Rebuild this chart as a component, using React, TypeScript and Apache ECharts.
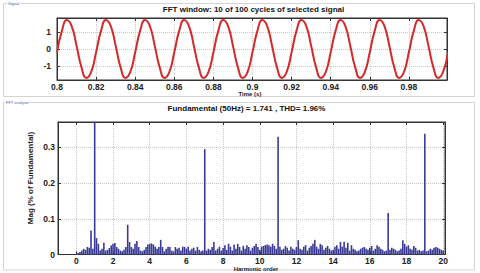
import React, { useEffect, useRef } from "react";
import * as echarts from "echarts";

// ---- data ----
const timeTicks = [0.8, 0.82, 0.84, 0.86, 0.88, 0.9, 0.92, 0.94, 0.96, 0.98];
const signalTicks = [-1, 0, 1];
const harmonicTicks = [0, 2, 4, 6, 8, 10, 12, 14, 16, 18, 20];
const magTicks = [0, 0.1, 0.2, 0.3];

const signalStart = 0.8;
const signalStep = 0.0025;
const signalValues = [
  -0.2, 1.08, 1.73, 1.37, 0.2, -1.08, -1.73, -1.37,
  -0.2, 1.08, 1.73, 1.37, 0.2, -1.08, -1.73, -1.37,
  -0.2, 1.08, 1.73, 1.37, 0.2, -1.08, -1.73, -1.37,
  -0.2, 1.08, 1.73, 1.37, 0.2, -1.08, -1.73, -1.37,
  -0.2, 1.08, 1.73, 1.37, 0.2, -1.08, -1.73, -1.37,
  -0.2, 1.08, 1.73, 1.37, 0.2, -1.08, -1.73, -1.37,
  -0.2, 1.08, 1.73, 1.37, 0.2, -1.08, -1.73, -1.37,
  -0.2, 1.08, 1.73, 1.37, 0.2, -1.08, -1.73, -1.37,
  -0.2, 1.08, 1.73, 1.37, 0.2, -1.08, -1.73, -1.37,
  -0.2, 1.08, 1.73, 1.37, 0.2, -1.08, -1.73, -1.37,
  -0.2,
];

const harmonicStep = 0.1;
const magnitudes = [
  0.002, 0.004, 0.007, 0.011, 0.016, 0.013, 0.021, 0.019, 0.067, 0.016,
  100, 0.046, 0.030, 0.011, 0.016, 0.033, 0.011, 0.013, 0.018, 0.025,
  0.030, 0.032, 0.021, 0.016, 0.011, 0.009, 0.013, 0.021, 0.083, 0.035,
  0.021, 0.016, 0.030, 0.038, 0.021, 0.011, 0.009, 0.013, 0.021, 0.028,
  0.030, 0.031, 0.028, 0.022, 0.016, 0.021, 0.041, 0.021, 0.009, 0.016,
  0.022, 0.021, 0.011, 0.009, 0.021, 0.016, 0.019, 0.011, 0.022, 0.021,
  0.016, 0.022, 0.011, 0.016, 0.019, 0.011, 0.021, 0.013, 0.009, 0.011,
  0.295, 0.011, 0.016, 0.013, 0.021, 0.035, 0.011, 0.016, 0.022, 0.011,
  0.018, 0.026, 0.013, 0.030, 0.022, 0.011, 0.028, 0.016, 0.030, 0.021,
  0.011, 0.024, 0.016, 0.026, 0.021, 0.011, 0.019, 0.024, 0.030, 0.021,
  0.013, 0.022, 0.024, 0.026, 0.028, 0.026, 0.022, 0.030, 0.024, 0.016,
  0.330, 0.022, 0.013, 0.016, 0.024, 0.019, 0.011, 0.022, 0.016, 0.013,
  0.021, 0.040, 0.016, 0.013, 0.022, 0.026, 0.011, 0.019, 0.024, 0.030,
  0.041, 0.022, 0.016, 0.030, 0.026, 0.013, 0.019, 0.024, 0.016, 0.011,
  0.013, 0.022, 0.026, 0.016, 0.035, 0.022, 0.036, 0.019, 0.033, 0.011,
  0.026, 0.016, 0.013, 0.009, 0.011, 0.016, 0.019, 0.021, 0.016, 0.013,
  0.019, 0.024, 0.011, 0.016, 0.026, 0.022, 0.016, 0.013, 0.009, 0.011,
  0.116, 0.013, 0.019, 0.016, 0.013, 0.009, 0.011, 0.016, 0.040, 0.030,
  0.022, 0.026, 0.016, 0.013, 0.024, 0.019, 0.011, 0.013, 0.009, 0.011,
  0.338, 0.009, 0.011, 0.016, 0.013, 0.019, 0.021, 0.019, 0.016, 0.013,
  0.011,
];

const topTitle = "FFT window: 10 of 100 cycles of selected signal";
const bottomTitle = "Fundamental (50Hz) = 1.741 , THD= 1.96%";

const FONT = "'Liberation Sans', Arial, sans-serif";
const labelStyle = { fontFamily: FONT, fontSize: 8.5, fontWeight: "bold" as const, color: "#222" };
const gridLine = { show: true, lineStyle: { color: "#c8c8c8", type: "dotted" as const, width: 1 } };
const axisLineStyle = { show: true, onZero: false, lineStyle: { color: "#333", width: 1 } };

export default function App() {
  const ref = useRef<HTMLDivElement>(null);
  useEffect(() => {
    if (!ref.current) return;
    const chart = echarts.init(ref.current, null, { renderer: "svg" });
    const signalData = signalValues.map((v, i) => [signalStart + i * signalStep, v]);
    const barData = magnitudes.map((v, i) => [Math.round(i * harmonicStep * 10) / 10, v]);

    chart.setOption({
      animation: false,
      backgroundColor: "#fff",
      grid: [
        { left: 57, top: 18, width: 390, height: 62, show: true, borderColor: "#333", borderWidth: 1, backgroundColor: "#fff" },
        { left: 58, top: 122, width: 387, height: 132.5, show: true, borderColor: "#333", borderWidth: 1, backgroundColor: "#fff" },
      ],
      xAxis: [
        {
          type: "value", gridIndex: 0, min: 0.8, max: 0.9995,
          axisLine: axisLineStyle,
          axisTick: { show: true, inside: true, length: 3, customValues: timeTicks, lineStyle: { color: "#333" } },
          axisLabel: { ...labelStyle, margin: 2, lineHeight: 9, customValues: timeTicks, formatter: (v: number) => String(+v.toFixed(2)) },
          splitLine: gridLine,
        },
        {
          type: "value", gridIndex: 0, min: 0.8, max: 0.9995, position: "top",
          axisLine: axisLineStyle,
          axisTick: { show: true, inside: true, length: 3, customValues: timeTicks, lineStyle: { color: "#333" } },
          axisLabel: { show: false },
          splitLine: { show: false },
        },
        {
          type: "value", gridIndex: 1, min: -1, max: 20.1,
          axisLine: axisLineStyle,
          axisTick: { show: true, inside: true, length: 3, customValues: harmonicTicks, lineStyle: { color: "#333" } },
          axisLabel: { ...labelStyle, margin: 2, lineHeight: 9, customValues: harmonicTicks },
          splitLine: gridLine,
        },
        {
          type: "value", gridIndex: 1, min: -1, max: 20.1, position: "top",
          axisLine: axisLineStyle,
          axisTick: { show: true, inside: true, length: 3, customValues: harmonicTicks, lineStyle: { color: "#333" } },
          axisLabel: { show: false },
          splitLine: { show: false },
        },
      ],
      yAxis: [
        {
          type: "value", gridIndex: 0, min: -1.85, max: 1.85,
          axisLine: axisLineStyle,
          axisTick: { show: true, inside: true, length: 3, customValues: signalTicks, lineStyle: { color: "#333" } },
          axisLabel: { ...labelStyle, margin: 6, customValues: signalTicks },
          splitLine: gridLine,
        },
        {
          type: "value", gridIndex: 0, min: -1.85, max: 1.85, position: "right",
          axisLine: axisLineStyle,
          axisTick: { show: true, inside: true, length: 3, customValues: signalTicks, lineStyle: { color: "#333" } },
          axisLabel: { show: false },
          splitLine: { show: false },
        },
        {
          type: "value", gridIndex: 1, min: 0, max: 0.371,
          axisLine: axisLineStyle,
          axisTick: { show: true, inside: true, length: 3, customValues: magTicks, lineStyle: { color: "#333" } },
          axisLabel: { ...labelStyle, margin: 3, customValues: magTicks },
          splitLine: gridLine,
        },
        {
          type: "value", gridIndex: 1, min: 0, max: 0.371, position: "right",
          axisLine: axisLineStyle,
          axisTick: { show: true, inside: true, length: 3, customValues: magTicks, lineStyle: { color: "#333" } },
          axisLabel: { show: false },
          splitLine: { show: false },
        },
      ],
      series: [
        {
          type: "line", xAxisIndex: 0, yAxisIndex: 0, data: signalData,
          smooth: 0.5, showSymbol: false, clip: true,
          lineStyle: { color: "#d42a2a", width: 2 },
        },
        {
          type: "bar", xAxisIndex: 2, yAxisIndex: 2, data: barData,
          barWidth: 1.6, clip: true,
          itemStyle: { color: "#3a3a96" },
        },
      ],
      graphic: [
        { type: "rect", z: -10, shape: { x: 3.5, y: 3.5, width: 471, height: 93 }, style: { fill: "none", stroke: "#d3d3d3", lineWidth: 1 } },
        { type: "rect", z: -10, shape: { x: 3.5, y: 102.5, width: 471, height: 167.5 }, style: { fill: "none", stroke: "#d3d3d3", lineWidth: 1 } },
        { type: "text", x: 7, y: 3.5, style: { text: "Signal", fontSize: 4, fontFamily: FONT, fill: "#4a64b4", backgroundColor: "#fff", verticalAlign: "middle", padding: [0, 1] } },
        { type: "text", x: 5, y: 102.5, style: { text: "FFT analysis", fontSize: 4, fontFamily: FONT, fill: "#4a64b4", backgroundColor: "#fff", verticalAlign: "middle", padding: [0, 1] } },
        { type: "text", x: 253.5, y: 9.5, style: { text: topTitle, fontSize: 8, fontWeight: "bold", fontFamily: FONT, fill: "#111", align: "center", verticalAlign: "middle" } },
        { type: "text", x: 250, y: 93.5, style: { text: "Time (s)", fontSize: 6, fontWeight: "bold", fontFamily: FONT, fill: "#222", align: "center", verticalAlign: "middle" } },
        { type: "text", x: 246.5, y: 108.5, style: { text: bottomTitle, fontSize: 8, fontWeight: "bold", fontFamily: FONT, fill: "#111", align: "center", verticalAlign: "middle" } },
        { type: "text", x: 256, y: 268.5, style: { text: "Harmonic order", fontSize: 6, fontWeight: "bold", fontFamily: FONT, fill: "#222", align: "center", verticalAlign: "middle" } },
        { type: "text", x: 30, y: 178, rotation: Math.PI / 2, style: { text: "Mag (% of Fundamental)", fontSize: 8, fontWeight: "bold", fontFamily: FONT, fill: "#222", align: "center", verticalAlign: "middle" } },
      ],
    });
    return () => chart.dispose();
  }, []);
  return <div ref={ref} style={{ position: "fixed", left: 0, top: 0, width: 480, height: 273 }} />;
}
